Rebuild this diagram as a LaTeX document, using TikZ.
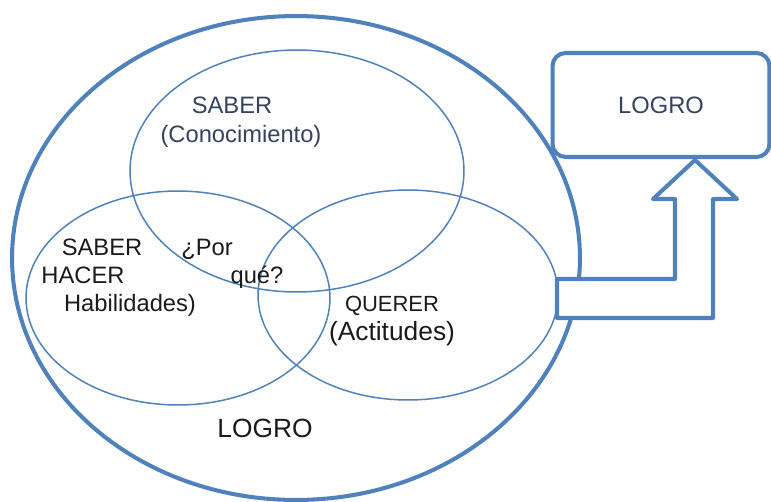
\documentclass[tikz,border=0pt]{standalone}
\usepackage{fontspec}
\setmainfont{Liberation Sans}
\usetikzlibrary{shapes, shapes.geometric}

\definecolor{lineblue}{HTML}{4F81BD}
\definecolor{darkslate}{HTML}{34435F}
\definecolor{darktext}{HTML}{1A1A1A}

\begin{document}
\begin{tikzpicture}[x=0.02cm, y=-0.02cm,
  every node/.style={font=\fontsize{13.5}{16}\selectfont, text=darktext},
  venn/.style={ellipse, draw=lineblue, line width=0.85pt, inner sep=0pt},
  word/.style={anchor=base, inner sep=0pt}]

\useasboundingbox (0,0) rectangle (771,501);

\node[ellipse, draw=lineblue, line width=2.3pt, minimum width=11.36cm, minimum height=9.68cm] (whole) at (296,258) {};
\node[venn, minimum width=6.68cm, minimum height=4.84cm] (saber) at (297,171) {};
\node[venn, minimum width=6.08cm, minimum height=4.28cm] (hacer) at (178,298) {};
\node[venn, minimum width=6.0cm, minimum height=4.2cm] (querer) at (408,295) {};

% bent arrow towards the result
\draw[lineblue, line width=2.3pt, fill=white, line join=round]
  (557,318) -- (557,279) -- (675,279) -- (675,199) -- (653,199) -- (695,160)
  -- (737,199) -- (713,199) -- (713,318) -- cycle;

\node[rectangle, draw=lineblue, line width=2.3pt, rounded corners=0.26cm, fill=white, text=darkslate,
  minimum width=4.34cm, minimum height=2.08cm] (logro) at (661,105) {LOGRO};

\node[word, text=darkslate] (t1) at (232,113) {SABER};
\node[word, text=darkslate] (t2) at (241,142) {(Conocimiento)};
\node[word] (t3) at (102,255) {SABER};
\node[word] (t4) at (83,283) {HACER};
\node[word] (t5) at (130,311) {Habilidades)};
\node[word] (t6) at (207,255) {¿Por};
\node[word] (t7) at (257,283) {qué?};
\node[word, font=\fontsize{12.5}{15}\selectfont] (t8) at (392,311) {QUERER};
\node[word, font=\fontsize{15}{18}\selectfont] (t9) at (392,340) {(Actitudes)};
\node[word, font=\fontsize{15}{18}\selectfont] (t10) at (265,437) {LOGRO};

\end{tikzpicture}
\end{document}
